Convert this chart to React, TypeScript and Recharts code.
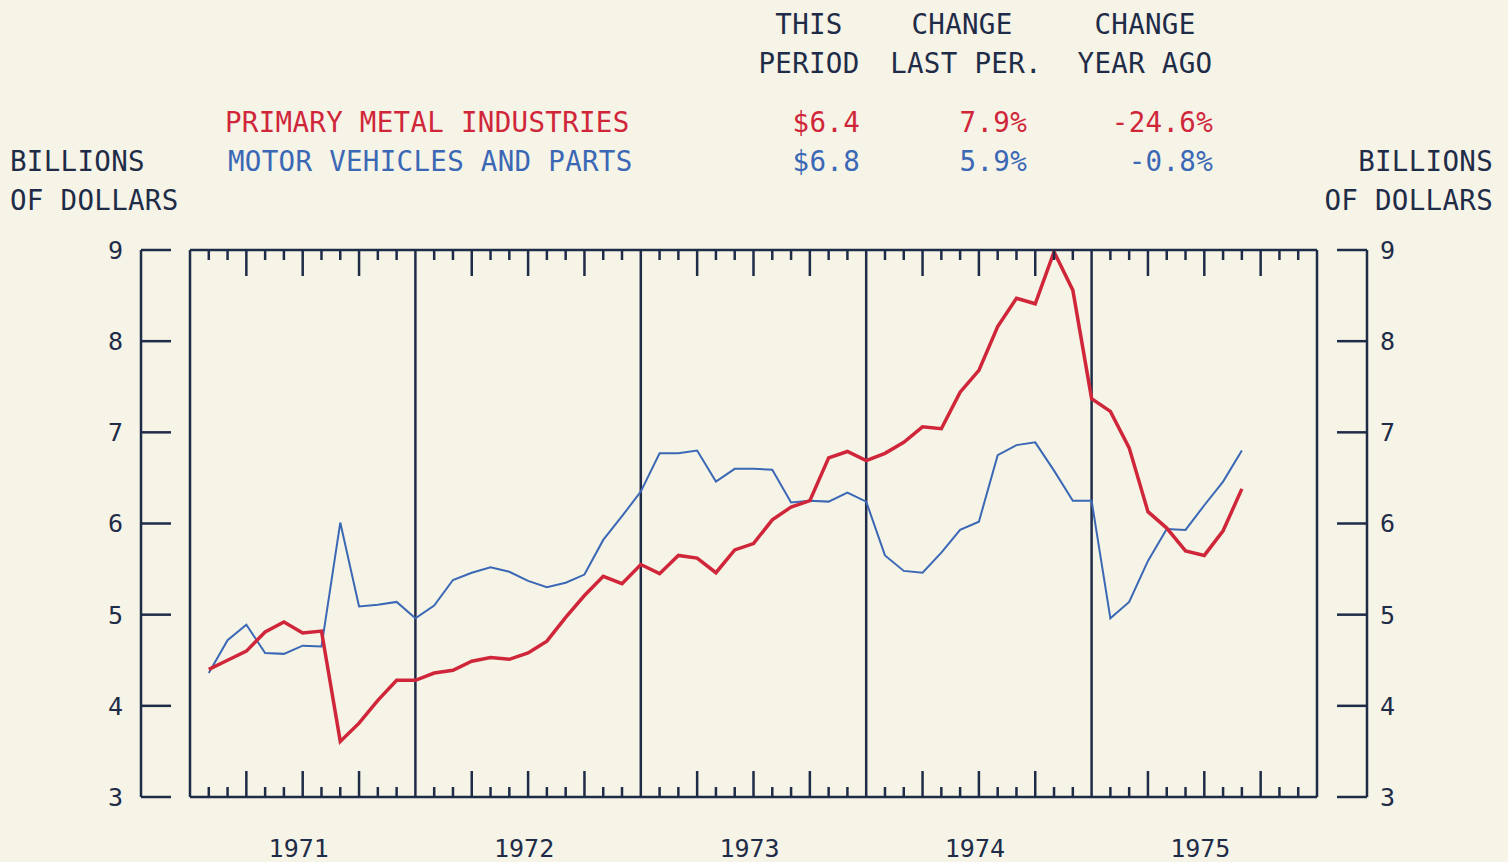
import React from 'react';
import { LineChart, Line, XAxis, YAxis, ReferenceLine } from 'recharts';

const YEARS = ['1971', '1972', '1973', '1974', '1975'];
const Y_TICKS = [3, 4, 5, 6, 7, 8, 9];
const YEAR_LINES = [0, 12, 24, 36, 48, 60];

// monthly values, billions of dollars (Jan 1971 .. Aug 1975)
const PRIMARY_METAL = [
  4.40, 4.50, 4.60, 4.81, 4.92, 4.80, 4.82, 3.61, 3.81, 4.06, 4.28, 4.28,
  4.36, 4.39, 4.49, 4.53, 4.51, 4.58, 4.71, 4.97, 5.21, 5.42, 5.34, 5.55,
  5.45, 5.65, 5.62, 5.46, 5.71, 5.78, 6.04, 6.18, 6.25, 6.72, 6.79, 6.69,
  6.77, 6.89, 7.06, 7.04, 7.44, 7.68, 8.16, 8.47, 8.41, 8.98, 8.56, 7.37,
  7.23, 6.83, 6.13, 5.95, 5.70, 5.65, 5.92, 6.38,
];
const MOTOR_VEHICLES = [
  4.36, 4.72, 4.89, 4.58, 4.57, 4.66, 4.65, 6.01, 5.09, 5.11, 5.14, 4.96,
  5.10, 5.38, 5.46, 5.52, 5.47, 5.37, 5.30, 5.35, 5.44, 5.82, 6.08, 6.35,
  6.77, 6.77, 6.80, 6.46, 6.60, 6.60, 6.59, 6.23, 6.25, 6.24, 6.34, 6.24,
  5.65, 5.48, 5.46, 5.68, 5.93, 6.02, 6.75, 6.86, 6.89, 6.58, 6.25, 6.25,
  4.96, 5.14, 5.59, 5.94, 5.93, 6.20, 6.46, 6.80,
];

const SERIES_NAMES = ['PRIMARY METAL INDUSTRIES', 'MOTOR VEHICLES AND PARTS'];
const HEADERS = [['THIS', 'PERIOD'], ['CHANGE', 'LAST PER.'], ['CHANGE', 'YEAR AGO']];
const METAL_STATS = ['$6.4', '7.9%', '-24.6%'];
const MOTOR_STATS = ['$6.8', '5.9%', '-0.8%'];

const data = PRIMARY_METAL.map((v, i) => ({ m: i + 1, metal: v, motor: MOTOR_VEHICLES[i] }));
const monthTicks = Array.from({ length: 59 }, (_, i) => i + 1).filter((m) => m % 12 !== 0);

const BG = '#f6f3e7';
const INK = '#1f2c48';
const RED = '#d0263a';
const BLUE = '#3b68b5';
const FONT = '"DejaVu Sans Mono", monospace';
const PAD = { left: 49, right: 50 };
const AX = { stroke: INK, strokeWidth: 2.5 };

const tickLen = (m: number) => (m % 3 === 0 ? 26 : 10);

const BottomTick = (props: any) => {
  const { x, y, payload } = props;
  const m = payload.value as number;
  return (
    <g>
      <line x1={x} x2={x} y1={y} y2={y - tickLen(m)} stroke={INK} strokeWidth={2.5} />
      {m % 12 === 6 && (
        <text x={x - 4} y={y + 51} textAnchor="middle" dominantBaseline="central"
          fill={INK} fontSize={25} fontFamily={FONT}>
          {YEARS[Math.floor(m / 12)]}
        </text>
      )}
    </g>
  );
};

const TopTick = (props: any) => {
  const { x, y, payload } = props;
  const m = payload.value as number;
  return <line x1={x} x2={x} y1={y} y2={y + tickLen(m)} stroke={INK} strokeWidth={2.5} />;
};

export default function App() {
  return (
    <div style={{ position: 'absolute', left: 0, top: 0, width: 1508, height: 862, background: BG, overflow: 'hidden' }}>
      <LineChart width={1508} height={862} data={data} margin={{ top: 249, right: 0, bottom: 0, left: 0 }}>
        <XAxis xAxisId="main" dataKey="m" type="number" domain={[0, 60]} ticks={monthTicks} interval={0}
          allowDataOverflow padding={PAD} height={65} axisLine={false} tickLine={false} tickSize={0} tickMargin={0}
          tick={<BottomTick />} />
        <XAxis xAxisId="top" orientation="top" dataKey="m" type="number" domain={[0, 60]} ticks={monthTicks} interval={0}
          allowDataOverflow padding={PAD} height={1} axisLine={false} tickLine={false} tickSize={0} tickMargin={0}
          tick={<TopTick />} />
        <YAxis yAxisId="left" orientation="left" type="number" domain={[3, 9]} ticks={Y_TICKS} interval={0}
          allowDataOverflow width={141} axisLine={AX} tickLine={AX} tickSize={-30} tickMargin={48}
          tick={{ fill: INK, fontSize: 25, fontFamily: FONT }} />
        <YAxis yAxisId="right" orientation="right" type="number" domain={[3, 9]} ticks={Y_TICKS} interval={0}
          allowDataOverflow width={141} axisLine={AX} tickLine={AX} tickSize={-30} tickMargin={43}
          tick={{ fill: INK, fontSize: 25, fontFamily: FONT }} />
        {YEAR_LINES.map((x) => (
          <ReferenceLine key={'v' + x} xAxisId="main" yAxisId="left" x={x} stroke={INK} strokeWidth={2.5} />
        ))}
        <ReferenceLine xAxisId="main" yAxisId="left" segment={[{ x: 0, y: 9 }, { x: 60, y: 9 }]} stroke={INK} strokeWidth={2.5} />
        <ReferenceLine xAxisId="main" yAxisId="left" segment={[{ x: 0, y: 3 }, { x: 60, y: 3 }]} stroke={INK} strokeWidth={2.5} />
        <Line xAxisId="main" yAxisId="left" type="linear" dataKey="motor" stroke={BLUE} strokeWidth={2}
          dot={false} isAnimationActive={false} />
        <Line xAxisId="main" yAxisId="left" type="linear" dataKey="metal" stroke={RED} strokeWidth={3.5}
          dot={false} isAnimationActive={false} />
      </LineChart>
      <svg width={1508} height={862} style={{ position: 'absolute', left: 0, top: 0, pointerEvents: 'none' }}
        fontFamily={FONT} fontSize={27.5} letterSpacing={0.3}>
        <text x={809} y={24} textAnchor="middle" dominantBaseline="central" fill={INK}>{HEADERS[0][0]}</text>
        <text x={809} y={63} textAnchor="middle" dominantBaseline="central" fill={INK}>{HEADERS[0][1]}</text>
        <text x={962} y={24} textAnchor="middle" dominantBaseline="central" fill={INK}>{HEADERS[1][0]}</text>
        <text x={966} y={63} textAnchor="middle" dominantBaseline="central" fill={INK}>{HEADERS[1][1]}</text>
        <text x={1145} y={24} textAnchor="middle" dominantBaseline="central" fill={INK}>{HEADERS[2][0]}</text>
        <text x={1145} y={63} textAnchor="middle" dominantBaseline="central" fill={INK}>{HEADERS[2][1]}</text>

        <text x={225} y={122} dominantBaseline="central" fill={RED}>{SERIES_NAMES[0]}</text>
        <text x={860} y={122} textAnchor="end" dominantBaseline="central" fill={RED}>{METAL_STATS[0]}</text>
        <text x={1027} y={122} textAnchor="end" dominantBaseline="central" fill={RED}>{METAL_STATS[1]}</text>
        <text x={1213} y={122} textAnchor="end" dominantBaseline="central" fill={RED}>{METAL_STATS[2]}</text>

        <text x={228} y={161} dominantBaseline="central" fill={BLUE}>{SERIES_NAMES[1]}</text>
        <text x={860} y={161} textAnchor="end" dominantBaseline="central" fill={BLUE}>{MOTOR_STATS[0]}</text>
        <text x={1027} y={161} textAnchor="end" dominantBaseline="central" fill={BLUE}>{MOTOR_STATS[1]}</text>
        <text x={1213} y={161} textAnchor="end" dominantBaseline="central" fill={BLUE}>{MOTOR_STATS[2]}</text>

        <text x={10} y={161} dominantBaseline="central" fill={INK}>BILLIONS</text>
        <text x={10} y={200} dominantBaseline="central" fill={INK}>OF DOLLARS</text>
        <text x={1493} y={161} textAnchor="end" dominantBaseline="central" fill={INK}>BILLIONS</text>
        <text x={1493} y={200} textAnchor="end" dominantBaseline="central" fill={INK}>OF DOLLARS</text>
      </svg>
    </div>
  );
}
